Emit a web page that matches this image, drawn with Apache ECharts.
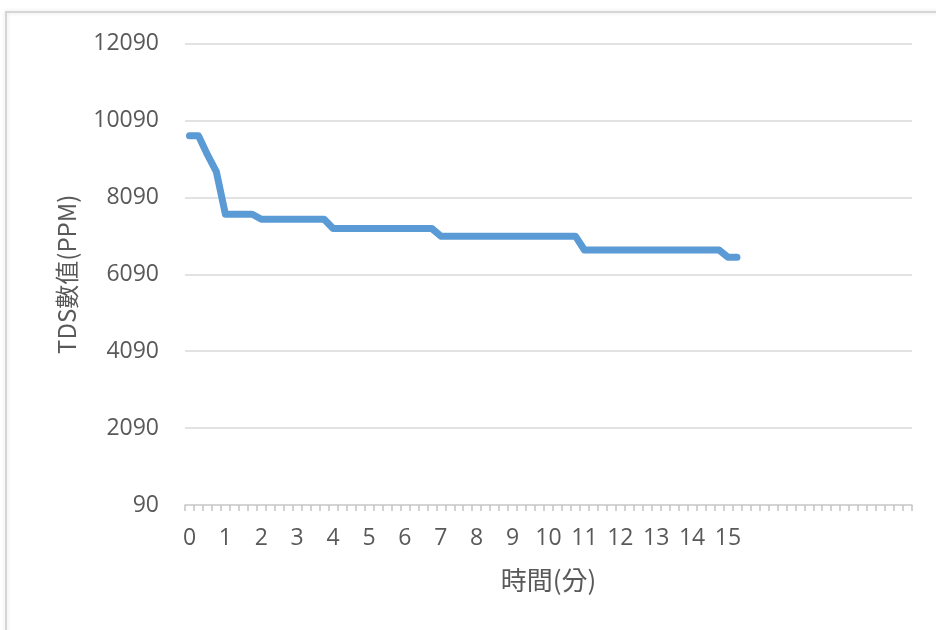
<!DOCTYPE html>
<html><head><meta charset="utf-8">
<script src="https://cdn.jsdelivr.net/npm/echarts@6/dist/echarts.min.js"></script>
<style>html,body{margin:0;padding:0;background:#fff}#c{width:936px;height:630px}</style>
</head><body><div id="c"></div>
<script>
// time categories (minutes)
const times = [0,0.25,0.5,0.75,1,1.25,1.5,1.75,2,2.25,2.5,2.75,3,3.25,3.5,3.75,4,4.25,4.5,4.75,5,5.25,5.5,5.75,6,6.25,6.5,6.75,7,7.25,7.5,7.75,8,8.25,8.5,8.75,9,9.25,9.5,9.75,10,10.25,10.5,10.75,11,11.25,11.5,11.75,12,12.25,12.5,12.75,13,13.25,13.5,13.75,14,14.25,14.5,14.75,15,15.25,15.5,15.75,16,16.25,16.5,16.75,17,17.25,17.5,17.75,18,18.25,18.5,18.75,19,19.25,19.5,19.75,20];
// TDS values (PPM)
const tds = [9690,9690,9200,8750,
  7650,7650,7650,7650,
  7520,7520,7520,7520,7520,7520,7520,7520,
  7280,7280,7280,7280,7280,7280,7280,7280,7280,7280,7280,7280,
  7080,7080,7080,7080,7080,7080,7080,7080,7080,7080,7080,7080,7080,7080,7080,7080,
  6720,6720,6720,6720,6720,6720,6720,6720,6720,6720,6720,6720,6720,6720,6720,6720,
  6530,6530];
const xTickLabels = ['0','1','2','3','4','5','6','7','8','9','10','11','12','13','14','15'];
const yTicks = [90,2090,4090,6090,8090,10090,12090];

const chart = echarts.init(document.getElementById('c'));
const grey = '#595959';
const FONT = '"Open Sans",sans-serif';
const CJK = '"Noto Sans CJK TC",sans-serif';
chart.setOption({
  animation:false,
  graphic:[{type:'rect',shape:{x:6,y:12,width:960,height:640},style:{fill:'none',stroke:'#d6d6d6',lineWidth:2,shadowBlur:4,shadowColor:'rgba(0,0,0,0.12)'},z:-1}],
  grid:{left:185,right:24,top:43.5,bottom:125,containLabel:false},
  xAxis:{type:'category',data:times.map(String),boundaryGap:true,
    name:'時間(分)',nameLocation:'middle',nameGap:62,
    nameTextStyle:{color:grey,fontSize:26,fontFamily:CJK},
    axisLine:{lineStyle:{color:'#d0d0d0',width:1.5}},
    axisTick:{show:true,interval:0,length:6,lineStyle:{color:'#c4c4c4',width:1.5}},
    axisLabel:{interval:0,margin:22,color:grey,fontSize:23,fontFamily:FONT,
      formatter:function(v){return xTickLabels.indexOf(v)>=0?v:'';}},
    splitLine:{show:false}},
  yAxis:{type:'value',min:yTicks[0],max:yTicks[yTicks.length-1],
    name:'TDS數值(PPM)',nameLocation:'middle',nameGap:106,
    nameTextStyle:{color:grey,fontSize:24,fontFamily:CJK},
    axisLine:{show:false},
    axisTick:{show:false,customValues:yTicks},
    axisLabel:{customValues:yTicks,margin:26,color:grey,fontSize:23,fontFamily:FONT,
      formatter:function(v){return String(v);}},
    splitLine:{show:true,lineStyle:{color:'#d9d9d9',width:1.5}}},
  series:[{type:'line',data:tds,showSymbol:false,symbol:'none',
    lineStyle:{color:'#5b9bd5',width:7,join:'round',cap:'round'}}]
});
</script></body></html>
